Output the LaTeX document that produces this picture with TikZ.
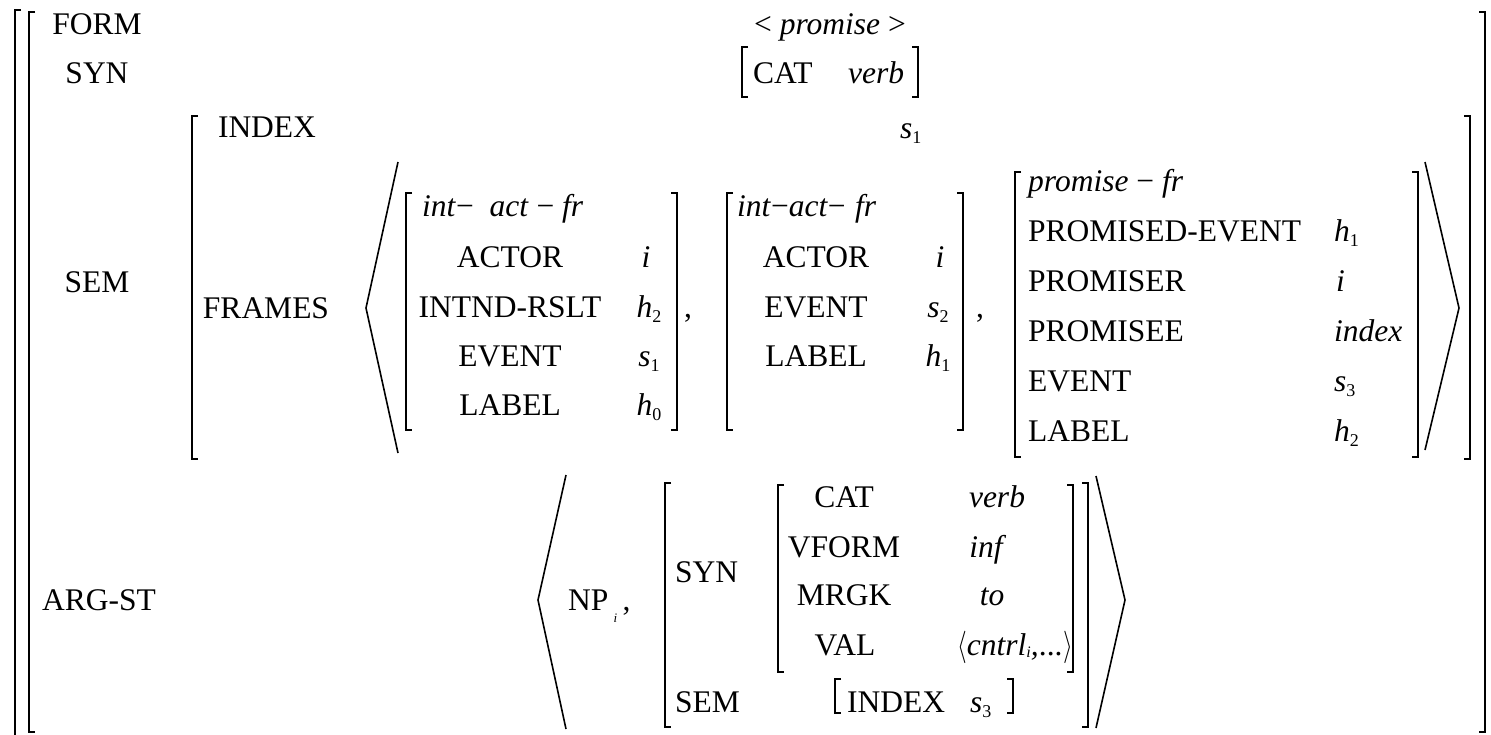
\documentclass[tikz,border=0pt]{standalone}
\usepackage{fontspec}
\setmainfont{Liberation Serif}
\usetikzlibrary{positioning}
\newcommand{\avmfont}{\fontsize{31.5}{36}\selectfont}
\newcommand{\subx}[1]{\raisebox{-0.18em}{\fontsize{18}{18}\selectfont\upshape #1}}
\newcommand{\subi}[2]{\raisebox{#1}{\fontsize{#2}{#2}\selectfont\itshape i}}
\newcommand{\tallang}[1]{\scalebox{1}[1.3]{$#1$}}
% square brackets with short feet: x, top, bottom
\newcommand{\lbrk}[3]{\draw[brk] (#1+6,#2) -- (#1,#2) -- (#1,#3) -- (#1+6,#3);}
\newcommand{\rbrk}[3]{\draw[brk] (#1-6,#2) -- (#1,#2) -- (#1,#3) -- (#1-6,#3);}

\begin{document}
\begin{tikzpicture}[x=1pt, y=-1pt,
                    every node/.style={inner sep=0pt, font=\avmfont},
                    feat/.style={anchor=base},
                    featw/.style={anchor=base west},
                    valu/.style={anchor=base, font=\avmfont\itshape},
                    valuw/.style={anchor=base west, font=\avmfont\itshape},
                    brk/.style={line width=1.8pt},
                    ang/.style={line width=1.6pt, line join=miter}]
    \useasboundingbox (0,0) rectangle (1491,734);

    % outer brackets
    \lbrk{15}{10}{740}
    \lbrk{29}{12}{732}
    \rbrk{1485}{12}{732}

    \node[feat] (form) at (97,34) {FORM};
    \node[feat] (syn) at (97,83) {SYN};
    \node[feat] (sem) at (97,292) {SEM};
    \node[feat] (argst) at (99,610) {ARG-ST};

    \node[feat] (phon) at (830,34) {< \textit{promise} >};
    \node[featw] (cat) at (753,83) {CAT};
    \node[valuw] (catval) at (848,83) {verb};
    \lbrk{742}{47}{97}
    \rbrk{918}{47}{97}

    % SEM
    \lbrk{192}{116}{459}
    \rbrk{1470}{116}{459}
    \node[feat] (index) at (267,137) {INDEX};
    \node[valuw] (indexval) at (900,138) {s\subx{1}};
    \node[feat] (frames) at (266,318) {FRAMES};
    \draw[ang] (398,162) -- (366,308) -- (398,453);
    \draw[ang] (1425,162) -- (1459,308) -- (1425,450);

    % first frame
    \lbrk{406}{193}{430}
    \rbrk{677}{193}{430}
    \node[valuw] (fra) at (422,216) {int\textup{−}\hspace{.5em}act \textup{−} fr};
    \node[feat] (fraa) at (510,267) {ACTOR};
    \node[feat] (frab) at (510,317) {INTND-RSLT};
    \node[feat] (frac) at (510,366) {EVENT};
    \node[feat] (frad) at (510,415) {LABEL};
    \node[valu] (fraav) at (646,267) {i};
    \node[valu] (frabv) at (649,317) {h\subx{2}};
    \node[valu] (fracv) at (649,366) {s\subx{1}};
    \node[valu] (fradv) at (649,415) {h\subx{0}};
    \node[featw] (comma1) at (684,317) {,};

    % second frame
    \lbrk{727}{193}{430}
    \rbrk{963}{193}{430}
    \node[valuw] (frb) at (737,216) {int\textup{−}act\textup{−}\hspace{.3em}fr};
    \node[feat] (frba) at (816,267) {ACTOR};
    \node[feat] (frbb) at (816,317) {EVENT};
    \node[feat] (frbc) at (816,366) {LABEL};
    \node[valu] (frbav) at (940,267) {i};
    \node[valu] (frbbv) at (938,317) {s\subx{2}};
    \node[valu] (frbcv) at (938,366) {h\subx{1}};
    \node[featw] (comma2) at (976,317) {,};

    % third frame
    \lbrk{1015}{172}{457}
    \rbrk{1418}{172}{457}
    \node[valuw] (frc) at (1028,191) {promise \textup{−} fr};
    \node[featw] (frca) at (1028,241) {PROMISED-EVENT};
    \node[featw] (frcb) at (1028,291) {PROMISER};
    \node[featw] (frcc) at (1028,341) {PROMISEE};
    \node[featw] (frcd) at (1028,391) {EVENT};
    \node[featw] (frce) at (1028,441) {LABEL};
    \node[valuw] (frcav) at (1334,241) {h\subx{1}};
    \node[valuw] (frcbv) at (1336,291) {i};
    \node[valuw] (frccv) at (1334,341) {index};
    \node[valuw] (frcdv) at (1334,391) {s\subx{3}};
    \node[valuw] (frcev) at (1334,441) {h\subx{2}};

    % ARG-ST
    \draw[ang] (566,475) -- (538,600) -- (566,729);
    \draw[ang] (1096,476) -- (1125,600) -- (1096,728);
    \node[featw] (np) at (568,610) {NP\,\subi{-12pt}{13}\,,};

    \lbrk{665}{483}{727}
    \rbrk{1088}{483}{727}
    \node[featw] (asyn) at (675,582) {SYN};
    \node[featw] (asem) at (675,712) {SEM};

    \lbrk{778}{485}{672}
    \rbrk{1073}{485}{672}
    \node[feat] (acat) at (844,507) {CAT};
    \node[feat] (avform) at (844,557) {VFORM};
    \node[feat] (amrgk) at (844,605) {MRGK};
    \node[feat] (aval) at (845,655) {VAL};
    \node[valu] (acatv) at (997,507) {verb};
    \node[valu] (avformv) at (986,557) {inf};
    \node[valu] (amrgkv) at (992,605) {to};
    \node[valuw] (avalv) at (957,655) {\tallang{\langle}cntrl\subi{-2pt}{16},\hspace{1pt}...\tallang{\rangle}};

    \lbrk{835}{679}{713}
    \rbrk{1013}{679}{713}
    \node[featw] (aindex) at (847,712) {INDEX};
    \node[valuw] (aindexv) at (970,712) {s\subx{3}};
\end{tikzpicture}
\end{document}
